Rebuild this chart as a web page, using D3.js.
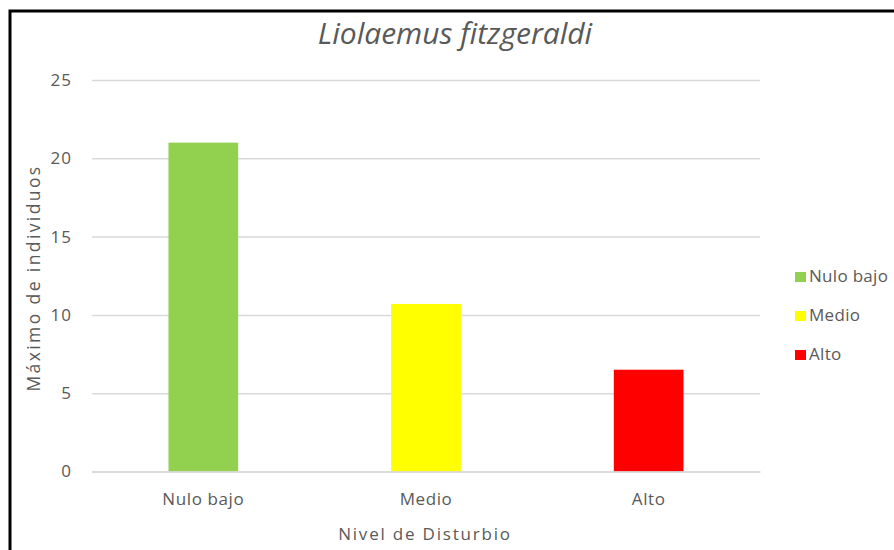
<!DOCTYPE html>
<html>
<head>
<meta charset="utf-8">
<script src="https://cdn.jsdelivr.net/npm/d3@7"></script>
<style>
body { margin: 0; background: #fff; }
text { font-family: "Open Sans", Lato, sans-serif; fill: #595959; }
</style>
</head>
<body>
<div id="grafica"></div>
<script>
var categorias = ['Nulo bajo', 'Medio', 'Alto'];
var valores = [21, 10.7, 6.5];
var colores = ['#92d050', '#ffff00', '#ff0000'];
var marcas = [0, 5, 10, 15, 20, 25];

var svg = d3.select("#grafica")
	.append('svg')
	.attr("width", 894)
	.attr("height", 550);

// marco negro
svg.append("rect")
	.attr("x", 10)
	.attr("y", 11)
	.attr("width", 900)
	.attr("height", 560)
	.attr("fill", "white")
	.attr("stroke", "black")
	.attr("stroke-width", 3);

var izq = 92, der = 760, arriba = 80, abajo = 471.5;

var x = d3.scaleBand()
	.domain(categorias)
	.range([izq, der])
	.paddingInner(0.687)
	.paddingOuter(0.687 / 2);

var y = d3.scaleLinear()
	.domain([0, 25])
	.range([abajo, arriba]);

// lineas de la grilla
var ejeY = svg.append("g")
	.attr("transform", "translate(" + izq + ",0)")
	.call(d3.axisLeft(y).tickValues(marcas).tickSize(-(der - izq)).tickPadding(20));
ejeY.select(".domain").remove();
ejeY.selectAll("line").attr("stroke", "#d9d9d9").attr("stroke-width", 1.5);
ejeY.selectAll("text")
	.attr("font-size", "17px")
	.attr("fill", "#595959")
	.style("font-family", "'Open Sans', sans-serif")
	.style("letter-spacing", "1px");

// barras
svg.selectAll(".barra")
	.data(valores)
	.enter().append("rect")
	.attr("class", "barra")
	.attr("x", function(d, i) { return x(categorias[i]); })
	.attr("width", x.bandwidth())
	.attr("y", function(d) { return y(d); })
	.attr("height", function(d) { return y(0) - y(d); })
	.attr("fill", function(d, i) { return colores[i]; });

// eje x
var ejeX = svg.append("g")
	.attr("transform", "translate(0," + abajo + ")")
	.call(d3.axisBottom(x).tickSize(0));
ejeX.select(".domain").attr("stroke", "#d9d9d9").attr("stroke-width", 1.5);
ejeX.selectAll("text")
	.attr("y", 33.5)
	.attr("dy", 0)
	.attr("font-size", "17px")
	.attr("fill", "#595959")
	.style("font-family", "'Open Sans', sans-serif")
	.style("letter-spacing", "0.6px");

// titulo
svg.append("text")
	.attr("x", 455)
	.attr("y", 44)
	.attr("text-anchor", "middle")
	.attr("font-size", "30px")
	.attr("font-style", "italic")
	.text("Liolaemus fitzgeraldi");

// titulos de ejes
svg.append("text")
	.attr("x", 425)
	.attr("y", 540)
	.attr("text-anchor", "middle")
	.attr("font-size", "17px")
	.style("letter-spacing", "1.8px")
	.text("Nivel de Disturbio");

svg.append("text")
	.attr("transform", "translate(40,278) rotate(-90)")
	.attr("text-anchor", "middle")
	.attr("font-size", "17.5px")
	.style("letter-spacing", "2.4px")
	.text("Máximo de individuos");

// leyenda
var leyenda = svg.selectAll(".ley")
	.data(categorias)
	.enter().append("g")
	.attr("class", "ley")
	.attr("transform", function(d, i) { return "translate(795," + (282 + i * 39) + ")"; });
leyenda.append("rect")
	.attr("x", 0)
	.attr("y", -10)
	.attr("width", 11)
	.attr("height", 10)
	.attr("fill", function(d, i) { return colores[i]; });
leyenda.append("text")
	.attr("x", 14)
	.attr("y", 0)
	.attr("font-size", "17px")
	.style("letter-spacing", "0.3px")
	.text(function(d) { return d; });
</script>
</body>
</html>
